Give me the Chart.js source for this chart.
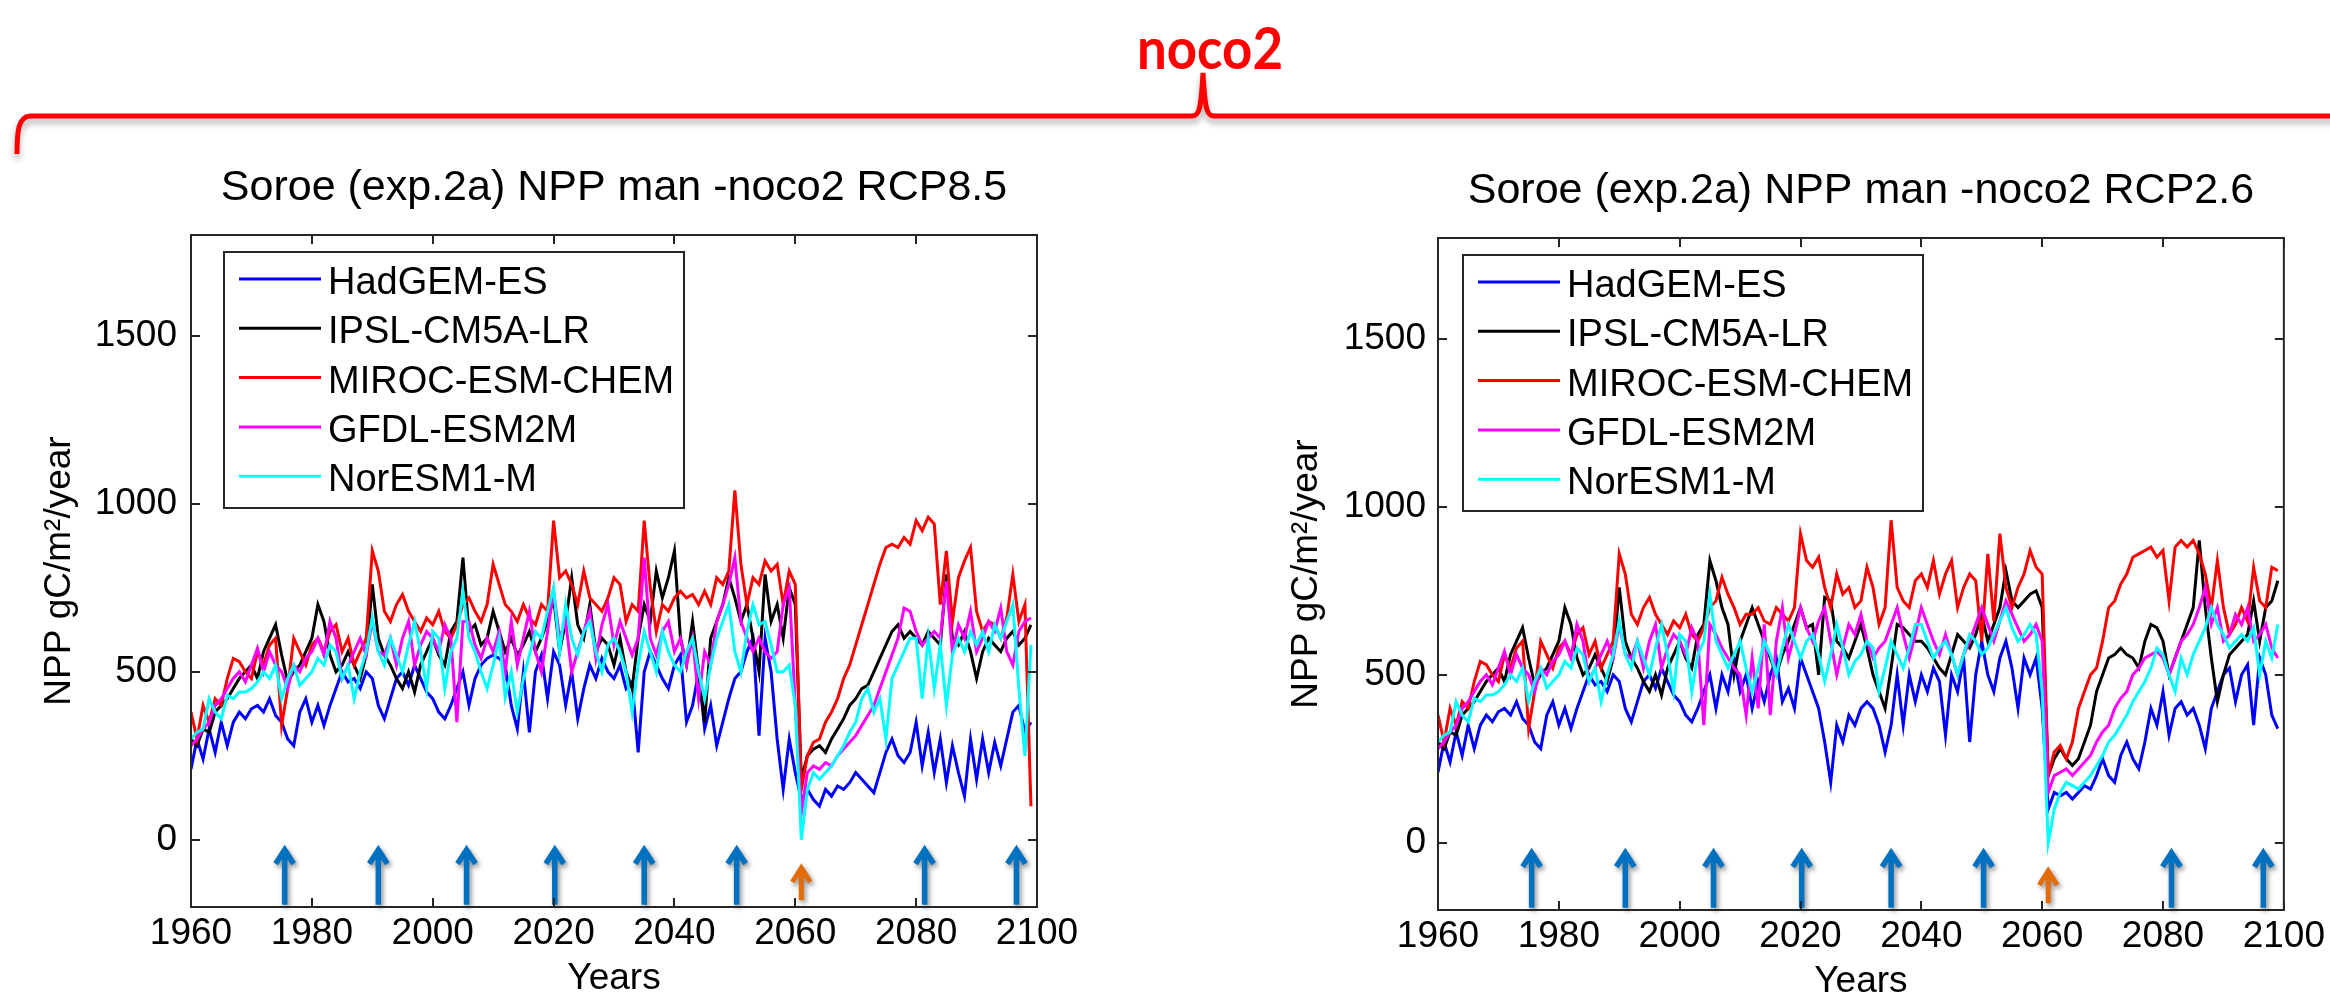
<!DOCTYPE html>
<html>
<head>
<meta charset="utf-8">
<title>Soroe NPP noco2</title>
<script src="https://cdn.jsdelivr.net/npm/chart.js@4.4.1/dist/chart.umd.min.js"></script>
<style>
  html, body { margin: 0; padding: 0; background: #fff; width: 2330px; height: 999px; overflow: hidden; }
  canvas { position: absolute; top: 0; }
  #left-chart { left: 0; }
  #right-chart { left: 1165px; }
  #brace { position: absolute; left: 0; top: 0; }
</style>
</head>
<body>
<svg id="brace" width="2330" height="180">
  <defs>
    <filter id="brace-shadow" x="-5%" y="-60%" width="110%" height="320%">
      <feDropShadow dx="0" dy="5" stdDeviation="3" flood-color="#000" flood-opacity="0.3"/>
    </filter>
  </defs>
  <text x="1210" y="69" text-anchor="middle" textLength="146" lengthAdjust="spacingAndGlyphs"
        font-family="Lato, 'Open Sans', sans-serif" font-weight="bold" font-size="58" fill="#ff0000">noco2</text>
  <path d="M 17 154 C 17 132, 18 117, 30 116 L 1192 116 C 1199 116, 1201 110, 1203 73 C 1205 110, 1207 116, 1214 116 L 2345 116"
        fill="none" stroke="#ff0000" stroke-width="5" filter="url(#brace-shadow)"/>
</svg>
<canvas id="left-chart" width="1165" height="1040"></canvas>
<canvas id="right-chart" width="1165" height="1040"></canvas>
<script>
const modelNames = ["HadGEM-ES", "IPSL-CM5A-LR", "MIROC-ESM-CHEM", "GFDL-ESM2M", "NorESM1-M"];
const modelColors = ["#0000ff", "#000000", "#ff0000", "#ff00ff", "#00ffff"];

const firstYear = 1960;
const xTickValues = [1960, 1980, 2000, 2020, 2040, 2060, 2080, 2100];
const yTickValues = [0, 500, 1000, 1500];

// management events marked under the curves
const thinningYears = [1975.5, 1991, 2005.6, 2020.2, 2035, 2050.3, 2081.4, 2096.6];
const harvestYear = 2061;

// 1960-2005, shared by both scenarios
const histHadGEM = [
  210, 300, 240, 330, 260, 350, 280, 350, 380, 360,
  390, 400, 380, 420, 370, 350, 300, 280, 380, 420,
  350, 400, 340, 400, 450, 500, 470, 480, 450, 500,
  480, 400, 360, 420, 480, 500, 460, 520, 480, 440,
  420, 380, 360, 400, 450, 500
];
const histIPSL = [
  300, 280, 330, 320, 380, 400, 420, 450, 480, 500,
  520, 480, 560, 600, 640, 550, 470, 500, 520, 560,
  600, 700, 650, 550, 500, 520, 560, 520, 480, 550,
  760, 600, 550, 520, 480, 450, 500, 440, 520, 560,
  600, 550, 520, 620, 650, 840
];
const histMIROC = [
  380, 300, 400, 350, 420, 400, 480, 540, 530, 500,
  480, 560, 520, 580, 600, 340, 450, 600, 560, 520,
  580, 600, 560, 620, 640, 560, 600, 520, 560, 600,
  860, 800, 680, 650, 700, 730, 680, 650, 620, 660,
  640, 680, 620, 600, 640, 700
];
const histGFDL = [
  280, 300, 330, 350, 400, 420, 450, 480, 500, 470,
  520, 570, 500, 560, 520, 500, 450, 520, 500, 540,
  560, 600, 550, 650, 600, 480, 520, 560, 600, 550,
  650, 560, 550, 600, 520, 600, 650, 520, 580, 620,
  600, 560, 640, 600, 350, 650
];
const histNorESM = [
  300, 320, 330, 420, 380, 360, 430, 420, 440, 440,
  450, 470, 500, 480, 520, 420, 480, 520, 460, 480,
  500, 540, 520, 580, 560, 480, 520, 420, 500, 560,
  660, 560, 520, 600, 550, 500, 580, 650, 560, 450,
  620, 600, 450, 560, 600, 740
];

// 2006-2099, RCP8.5
const rcp85HadGEM = [
  400, 480, 520, 540,
  550, 540, 520, 400, 330, 500, 320, 500, 550, 420,
  560, 520, 400, 500, 360, 450, 520, 480, 540, 500,
  480, 520, 450, 470, 260, 500, 560, 520, 480, 450,
  520, 550, 350, 400, 500, 330, 400, 280, 350, 420,
  480, 500, 560, 600, 310, 600, 500, 300, 150, 300,
  200, 120, 150, 120, 100, 150, 130, 160, 150, 170,
  200, 180, 160, 140, 200, 260, 300, 250, 230, 260,
  350, 220, 320, 200, 300, 170, 280, 200, 130, 300,
  180, 300, 200, 290, 220, 300, 380, 400, 320, 350
];
const rcp85IPSL = [
  620, 640, 580, 600,
  680, 620, 560, 600, 550, 580, 620, 560, 600, 650,
  720, 560, 650, 780, 640, 600, 700, 560, 600, 580,
  520, 600, 500, 450, 600, 700, 650, 800, 720, 780,
  860, 600, 520, 650, 500, 350, 600, 650, 700, 780,
  720, 650, 700, 600, 500, 790, 650, 700, 600, 750,
  700, 180, 250, 270, 280, 260, 300, 330, 360, 400,
  420, 450, 460, 500, 540, 580, 620, 640, 600, 620,
  600, 580, 620, 600, 580, 790, 600, 580, 620, 560,
  480, 560, 600, 580, 560, 600, 620, 580, 600, 640
];
const rcp85MIROC = [
  720, 680, 650, 700,
  820, 760, 700, 680, 650, 700, 660, 640, 700, 680,
  950, 780, 800, 760, 700, 800, 720, 700, 680, 720,
  780, 760, 650, 700, 680, 950, 750, 620, 700, 680,
  720, 740, 720, 730, 700, 740, 700, 780, 760, 800,
  1040, 820, 700, 780, 760, 830, 800, 820, 700, 800,
  760, 150, 250, 290, 300, 350, 380, 420, 480, 520,
  580, 640, 700, 760, 820, 870, 880, 870, 900, 880,
  950, 920, 960, 940, 700, 860, 650, 780, 830, 870,
  680, 620, 650, 640, 600, 660, 790, 650, 700, 100
];
const rcp85GFDL = [
  650, 580, 540, 600,
  560, 620, 500, 650, 520, 600, 680, 560, 500, 620,
  740, 600, 650, 500, 560, 620, 680, 540, 640, 700,
  580, 650, 600, 550, 600, 840, 600, 550, 620, 650,
  560, 600, 520, 600, 420, 560, 520, 650, 700, 760,
  840, 650, 600, 560, 600, 560, 540, 560, 700, 750,
  400, 80, 200, 220, 210, 230, 220, 250, 270, 290,
  310, 340, 370, 400, 450, 500, 550, 600, 690, 680,
  620, 580, 600, 620, 600, 770, 560, 640, 600, 680,
  560, 600, 650, 620, 690, 560, 520, 620, 650, 660
];
const rcp85NorESM = [
  600, 560, 500, 450,
  520, 600, 424, 500, 380, 480, 550, 620, 600, 680,
  750, 560, 700, 600, 550, 620, 650, 560, 500, 580,
  600, 560, 500, 380, 520, 620, 560, 500, 620, 560,
  520, 500, 560, 600, 500, 420, 520, 600, 650, 700,
  560, 500, 620, 700, 640, 650, 580, 500, 500, 520,
  400, 0, 150, 200, 180, 200, 220, 250, 280, 320,
  350, 420, 450, 380, 420, 300, 480, 520, 560, 600,
  600, 420, 600, 450, 580, 400, 550, 600, 560, 620,
  580, 620, 560, 640, 600, 650, 700, 450, 250, 580
];

// 2006-2099, RCP2.6
const rcp26HadGEM = [
  400, 500, 450, 550,
  450, 500, 400, 480, 420, 500, 550, 420, 460, 400,
  550, 500, 450, 400, 300, 180, 350, 300, 380, 350,
  400, 420, 400, 350, 270, 350, 500, 350, 500, 420,
  500, 450, 520, 480, 320, 500, 450, 550, 300, 500,
  600, 500, 450, 550, 600, 520, 400, 550, 500, 550,
  400, 100, 150, 140, 150, 130, 150, 170, 160, 200,
  250, 200, 180, 260, 300, 250, 220, 300, 400, 350,
  450, 320, 400, 420, 380, 400, 350, 280, 400, 450,
  500, 520, 420, 500, 530, 350, 550, 500, 380, 340
];
const rcp26IPSL = [
  780, 700, 650, 500,
  600, 650, 700, 650, 600, 550, 500, 560, 600, 650,
  700, 640, 650, 500, 730, 720, 600, 580, 550, 600,
  650, 580, 500, 450, 400, 520, 650, 640, 620, 600,
  600, 580, 550, 520, 500, 560, 620, 600, 580, 620,
  680, 600, 650, 700, 810, 720, 700, 720, 740, 750,
  700, 200, 250, 280, 250, 230, 250, 300, 350, 450,
  500, 550, 560, 580, 560, 550, 520, 600, 650, 640,
  600, 500, 550, 600, 650, 700, 900, 700, 550, 420,
  500, 560, 580, 600, 620, 720, 600, 700, 720, 780
];
const rcp26MIROC = [
  720, 790, 740, 700,
  650, 680, 680, 700, 660, 650, 700, 680, 660, 700,
  920, 840, 820, 850, 760, 700, 800, 740, 760, 700,
  720, 820, 760, 650, 700, 960, 760, 720, 700, 780,
  800, 760, 840, 740, 800, 840, 700, 760, 800, 780,
  600, 860, 660, 920, 760, 700, 760, 800, 870, 820,
  800, 200, 270, 290, 250, 300, 400, 450, 500, 520,
  600, 700, 720, 770, 800, 850, 860, 870, 880, 850,
  870, 720, 880, 900, 880, 900, 860, 800, 700, 840,
  700, 620, 650, 700, 660, 820, 720, 700, 820, 810
];
const rcp26GFDL = [
  620, 580, 550, 520,
  500, 380, 550, 400, 650, 380, 600, 700, 550, 620,
  700, 640, 600, 660, 700, 600, 500, 580, 650, 620,
  680, 600, 550, 580, 600, 650, 700, 620, 550, 620,
  700, 650, 600, 560, 620, 560, 500, 560, 600, 650,
  700, 650, 600, 660, 720, 680, 640, 600, 620, 650,
  600, 150, 200, 210, 220, 200, 220, 240, 260, 300,
  330, 350, 400, 430, 450, 500, 520, 550, 560, 570,
  550, 500, 550, 600, 620, 650, 700, 760, 650, 700,
  600, 620, 680, 650, 700, 600, 620, 650, 580, 550
];
const rcp26NorESM = [
  600, 560, 520, 560,
  600, 520, 450, 520, 600, 560, 500, 580, 650, 600,
  550, 600, 620, 560, 480, 560, 650, 580, 500, 540,
  560, 600, 580, 450, 520, 600, 560, 520, 580, 650,
  650, 600, 550, 580, 600, 560, 500, 560, 620, 600,
  560, 580, 620, 660, 700, 640, 600, 620, 650, 620,
  450, 0, 100, 150, 180, 170, 160, 180, 200, 230,
  260, 300, 320, 350, 380, 420, 450, 480, 520, 580,
  560, 500, 450, 550, 500, 560, 600, 640, 700, 650,
  620, 580, 600, 620, 600, 640, 500, 600, 550, 650
];

const histSeries = [histHadGEM, histIPSL, histMIROC, histGFDL, histNorESM];
const rcp85Series = [rcp85HadGEM, rcp85IPSL, rcp85MIROC, rcp85GFDL, rcp85NorESM];
const rcp26Series = [rcp26HadGEM, rcp26IPSL, rcp26MIROC, rcp26GFDL, rcp26NorESM];

const FONT = "'Liberation Sans', Arial, Helvetica, sans-serif";
const AXIS_COLOR = "#262626";

Chart.defaults.font.family = FONT;
Chart.defaults.color = "#000";

function buildDatasets(futureSeries) {
  return modelNames.map((name, i) => {
    const values = histSeries[i].concat(futureSeries[i]);
    return {
      label: name,
      data: values.map((v, k) => ({ x: firstYear + k, y: v })),
      borderColor: modelColors[i],
      backgroundColor: modelColors[i],
      borderWidth: 3,
      pointRadius: 0,
      tension: 0,
      fill: false,
      // later models are painted on top, as in the original plot
      order: modelNames.length - i,
    };
  });
}

function drawArrow(ctx, x, yTip, yBase, color, width) {
  ctx.strokeStyle = color;
  ctx.lineWidth = width;
  ctx.lineJoin = "miter";
  ctx.lineCap = "butt";
  ctx.beginPath();
  ctx.moveTo(x, yBase);
  ctx.lineTo(x, yTip + 3);
  ctx.moveTo(x - 9, yTip + 18);
  ctx.lineTo(x, yTip + 4);
  ctx.lineTo(x + 9, yTip + 18);
  ctx.stroke();
}

const matlabAxes = {
  id: "matlabAxes",
  afterDatasetsDraw(chart, args, opts) {
    const { ctx, chartArea: area } = chart;
    const xs = chart.scales.x;
    const ys = chart.scales.y;

    ctx.save();
    ctx.shadowColor = "rgba(0, 0, 0, 0.45)";
    ctx.shadowBlur = 5;
    ctx.shadowOffsetX = 2;
    ctx.shadowOffsetY = 3;
    thinningYears.forEach((yr) => {
      drawArrow(ctx, xs.getPixelForValue(yr), ys.getPixelForValue(-18), ys.getPixelForValue(-193), "#0070c0", 5.5);
    });
    drawArrow(ctx, xs.getPixelForValue(harvestYear), ys.getPixelForValue(-72), ys.getPixelForValue(-180), "#e36c09", 5);
    ctx.restore();

    ctx.save();
    ctx.strokeStyle = AXIS_COLOR;
    ctx.lineWidth = 2;
    ctx.strokeRect(area.left, area.top, area.width, area.height);
    const tick = 9;
    ctx.beginPath();
    xTickValues.forEach((v) => {
      const px = Math.round(xs.getPixelForValue(v));
      ctx.moveTo(px, area.bottom);
      ctx.lineTo(px, area.bottom - tick);
      ctx.moveTo(px, area.top);
      ctx.lineTo(px, area.top + tick);
    });
    yTickValues.forEach((v) => {
      const py = Math.round(ys.getPixelForValue(v));
      ctx.moveTo(area.left, py);
      ctx.lineTo(area.left + tick, py);
      ctx.moveTo(area.right, py);
      ctx.lineTo(area.right - tick, py);
    });
    ctx.stroke();
    ctx.restore();
  },
  afterDraw(chart, args, opts) {
    const { ctx } = chart;
    const box = opts.legendBox;
    ctx.save();
    ctx.fillStyle = "#fff";
    ctx.fillRect(box.left, box.top, box.width, box.height);
    ctx.strokeStyle = AXIS_COLOR;
    ctx.lineWidth = 2;
    ctx.strokeRect(box.left, box.top, box.width, box.height);
    ctx.font = "38px " + FONT;
    ctx.textBaseline = "alphabetic";
    ctx.textAlign = "left";
    modelNames.forEach((name, i) => {
      const rowY = box.top + 27 + i * 49.3;
      ctx.strokeStyle = modelColors[i];
      ctx.lineWidth = 3;
      ctx.beginPath();
      ctx.moveTo(box.left + 15, rowY);
      ctx.lineTo(box.left + 97, rowY);
      ctx.stroke();
      ctx.fillStyle = "#000";
      ctx.fillText(name, box.left + 104, rowY + 15);
    });
    ctx.restore();
  },
};

function makePanel(canvasId, titleText, futureSeries, frame) {
  return new Chart(document.getElementById(canvasId), {
    type: "line",
    data: { datasets: buildDatasets(futureSeries) },
    plugins: [matlabAxes],
    options: {
      responsive: false,
      animation: false,
      devicePixelRatio: 1,
      layout: { padding: { left: 0, top: 0, right: frame.padRight, bottom: 0 } },
      plugins: {
        legend: { display: false },
        tooltip: { enabled: false },
        title: {
          display: true,
          text: titleText,
          fullSize: false,
          color: "#000",
          font: { size: 43, weight: "normal", family: FONT },
          padding: { top: frame.titleTop, bottom: frame.titleBottom },
        },
        matlabAxes: { legendBox: frame.legendBox },
      },
      scales: {
        x: {
          type: "linear",
          min: 1960,
          max: 2100,
          grid: { display: false, drawTicks: false },
          border: { display: false },
          afterBuildTicks: (s) => { s.ticks = xTickValues.map((v) => ({ value: v })); },
          afterFit: (s) => { s.height = frame.xAxisHeight; },
          ticks: {
            padding: 5,
            font: { size: 37 },
            color: "#000",
            maxRotation: 0,
            autoSkip: false,
            callback: (v) => String(v),
          },
          title: {
            display: true,
            text: "Years",
            color: "#000",
            font: { size: 37 },
            padding: { top: 0, bottom: frame.xTitlePad },
          },
        },
        y: {
          type: "linear",
          min: -200,
          max: 1800,
          grid: { display: false, drawTicks: false },
          border: { display: false },
          afterBuildTicks: (s) => { s.ticks = yTickValues.map((v) => ({ value: v })); },
          afterFit: (s) => { s.width = frame.yAxisWidth; },
          ticks: {
            padding: frame.yTickPad,
            font: { size: 37 },
            color: "#000",
            callback: (v) => String(v),
          },
          title: {
            display: true,
            text: "NPP gC/m\u00b2/year",
            color: "#000",
            font: { size: 37 },
            padding: { top: frame.yTitlePad, bottom: 0 },
          },
        },
      },
    },
  });
}

makePanel("left-chart", "Soroe (exp.2a) NPP man -noco2 RCP8.5", rcp85Series, {
  yAxisWidth: 191,
  padRight: 128,
  titleTop: 162,
  titleBottom: 21.4,
  xAxisHeight: 133,
  xTitlePad: 38.8,
  yTitlePad: 38,
  yTickPad: 14,
  legendBox: { left: 224, top: 252, width: 460, height: 256 },
});

makePanel("right-chart", "Soroe (exp.2a) NPP man -noco2 RCP2.6", rcp26Series, {
  yAxisWidth: 273,
  padRight: 46,
  titleTop: 165,
  titleBottom: 21.4,
  xAxisHeight: 130,
  xTitlePad: 35.8,
  yTitlePad: 120,
  yTickPad: 12,
  legendBox: { left: 298, top: 255, width: 460, height: 256 },
});
</script>
</body>
</html>
